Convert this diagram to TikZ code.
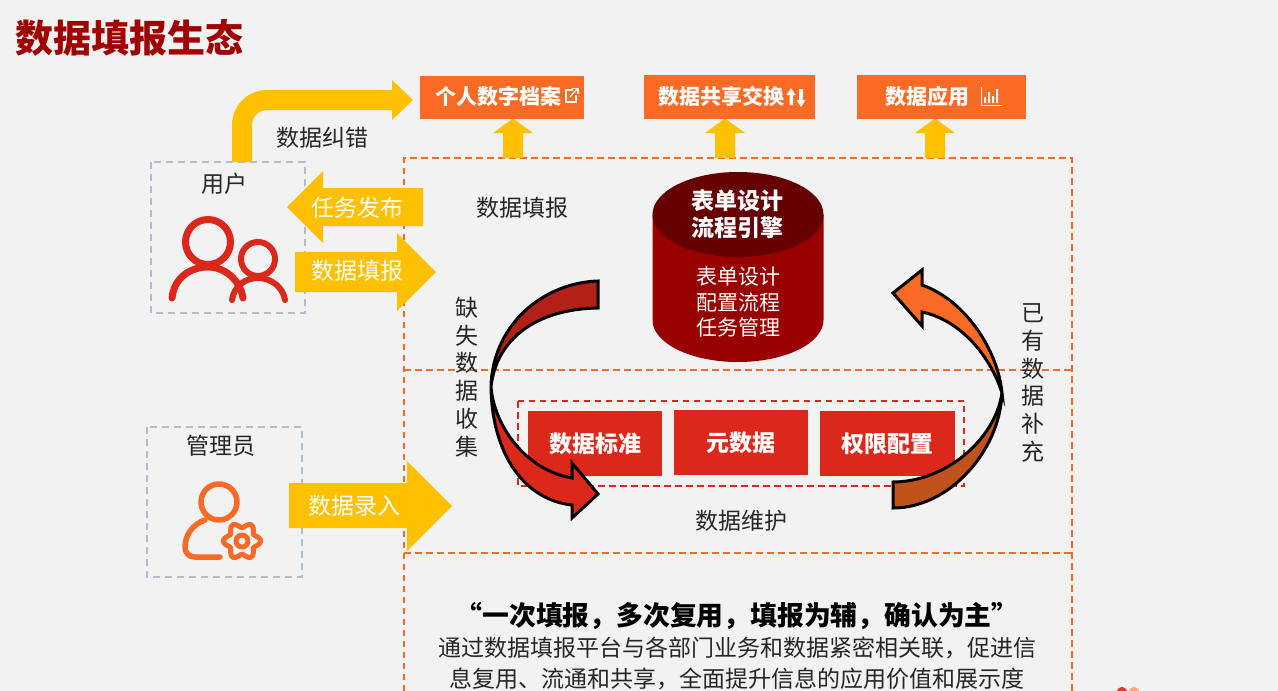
\documentclass[tikz,border=0pt]{standalone}
\usepackage{fontspec}
\setmainfont{Noto Sans CJK SC}
\usetikzlibrary{calc}
\definecolor{pagebg}{HTML}{F2F2F2}
\definecolor{amber}{HTML}{FFC000}
\definecolor{tangerine}{HTML}{F96A25}
\definecolor{signalred}{HTML}{DC281A}
\definecolor{deepred}{HTML}{990000}
\definecolor{darkcap}{HTML}{660000}
\definecolor{titlered}{HTML}{A00000}
\definecolor{slatedash}{HTML}{B0BCCC}
\definecolor{inktext}{HTML}{262626}
\definecolor{wineribbon}{HTML}{B22017}
\definecolor{rustribbon}{HTML}{C0531C}
\tikzset{
  txt/.style={inner sep=0pt,text=inktext,font=\fontsize{23}{28}\selectfont,align=center},
  whitetxt/.style={txt,text=white},
  boldwhite/.style={whitetxt,font=\fontsize{23}{28}\selectfont\bfseries},
  topbox/.style={fill=tangerine,draw=none,inner sep=0pt,text=white,font=\fontsize{21}{26}\selectfont\bfseries},
  redbox/.style={fill=signalred,draw=none,inner sep=0pt,minimum width=134.5pt,minimum height=65pt,text=white,font=\fontsize{23}{26}\selectfont\bfseries},
  zone/.style={draw=tangerine,line width=2pt,dash pattern=on 6.5pt off 4.5pt},
  redzone/.style={draw=signalred,line width=2pt,dash pattern=on 6.5pt off 4.5pt},
  actor/.style={draw=slatedash,line width=2pt,dash pattern=on 7pt off 5pt},
  blockarrow/.style={fill=amber,draw=none},
  ribbon/.style={draw=black,line width=3pt,line join=miter},
  icon/.style={line width=#1,line cap=round,line join=round,fill=none},
}
\begin{document}
\begin{tikzpicture}[x=1pt,y=-1pt]
\useasboundingbox (0,0) rectangle (1278,691);
\clip (0,0) rectangle (1278,691);
\fill[pagebg] (0,0) rectangle (1278,691);

% heading
\node[anchor=west,inner sep=0pt,text=titlered,font=\fontsize{38}{44}\selectfont\bfseries] (heading) at (15,38) {数据填报生态};

% dashed zones of the platform
\draw[zone] (404,691) -- (404,158) -- (1072,158) -- (1072,691);
\draw[zone] (404,370) -- (1072,370);
\draw[zone] (404,553) -- (1072,553);
\draw[redzone] (518,401) rectangle (964,486);

% actor frames
\draw[actor] (151,162) rectangle (305,313);
\draw[actor] (147,427) rectangle (302,577);

% output boxes
\node[topbox,minimum width=164pt,minimum height=43pt] (archive) at (502,97.5) {};
\node[topbox,minimum width=171pt,minimum height=44pt] (exchange) at (729.5,96.7) {};
\node[topbox,minimum width=169pt,minimum height=44pt] (application) at (941.5,96.7) {};
\node[topbox] (archivetxt) at (498,96) {个人数字档案};
\node[topbox] (exchangetxt) at (721,96) {数据共享交换};
\node[topbox] (applicationtxt) at (927,96) {数据应用};

% small glyphs inside the output boxes
\draw[white,line width=1.1pt] (573,90) -- (566,90) -- (566,102) -- (576,102) -- (576,95);
\draw[white,line width=1.2pt] (570,97) -- (577,89);
\draw[white,line width=1.2pt] (572,88.5) -- (578,88.5) -- (578,94);
\fill[white] (791,88) -- (795.5,95) -- (793,95) -- (793,105) -- (789.5,105) -- (789.5,95) -- (786.5,95) -- cycle;
\fill[white] (801,107) -- (805.5,100) -- (803,100) -- (803,89) -- (799,89) -- (799,100) -- (796.5,100) -- cycle;
\draw[white,line width=1pt] (981,87) -- (981,105) -- (1001.5,105);
\fill[white] (984,97) rectangle (986,103) (988,92) rectangle (990,103) (992,96) rectangle (994,103) (996,89) rectangle (998,103);

% amber arrows into the output boxes
\foreach \cx in {513,725,935}{
  \fill[blockarrow] (\cx-10,158) -- (\cx-10,133) -- (\cx-20,133) -- (\cx,118.5) -- (\cx+20,133) -- (\cx+10,133) -- (\cx+10,158) -- cycle;
}

% correction arrow from the user frame to the archive box
\fill[blockarrow] (232,162) -- (232,125) arc[start angle=180,end angle=270,radius=35] -- (392,90) -- (392,80) -- (413,100) -- (392,120) -- (392,110) -- (267,110) arc[start angle=270,end angle=180,radius=15] -- (252,162) -- cycle;

% arrows between the actors and the platform
\fill[blockarrow] (287,207) -- (323,171) -- (323,188) -- (423,188) -- (423,226) -- (323,226) -- (323,243) -- cycle;
\fill[blockarrow] (295,252) -- (397,252) -- (397,233) -- (436,272) -- (397,311) -- (397,292) -- (295,292) -- cycle;
\fill[blockarrow] (289,483) -- (407,483) -- (407,461) -- (452,506) -- (407,551) -- (407,528) -- (289,528) -- cycle;

% user icon
\draw[signalred,icon=7pt] (208,242) circle[radius=22.5];
\draw[signalred,icon=7pt] (172,298) .. controls (174,278) and (190,267) .. (208,267) .. controls (225,267) and (240,280) .. (243,298);
\draw[signalred,icon=6pt] (258,259) circle[radius=17];
\draw[signalred,icon=6pt] (232,300) .. controls (234,286) and (245,278) .. (258,278) .. controls (271,278) and (283,287) .. (285,300);

% administrator icon
\draw[tangerine,icon=5.5pt] (219,502) circle[radius=18];
\draw[tangerine,icon=5.5pt] (205,520) .. controls (193,524) and (185,535) .. (185,547) .. controls (185,553) and (189,557) .. (195,557) -- (220,557);
\draw[tangerine,icon=5pt,smooth,domain=0:360,samples=72] plot ({242+(16+2.6*cos(6*\x))*cos(\x)},{541+(16+2.6*cos(6*\x))*sin(\x)}) -- cycle;
\draw[tangerine,icon=5pt] (242,541) circle[radius=6];

% database cylinder
\fill[deepred] (652.5,214.5) -- (652.5,320) arc[start angle=180,end angle=0,x radius=85.5,y radius=42] -- (823.5,214.5) -- cycle;
\fill[darkcap] (738,214.5) ellipse[x radius=85.5,y radius=42.5];
\node[boldwhite] (enginea) at (737,201) {表单设计};
\node[boldwhite] (engineb) at (737,228) {流程引擎};
\node[whitetxt,font=\fontsize{21}{25.5}\selectfont] (enginelist) at (738,302.5) {表单设计\\配置流程\\任务管理};

% maintenance boxes
\node[redbox] (standard) at (595,443.5) {数据标准};
\node[redbox] (metadata) at (741,442.5) {元数据};
\node[redbox] (rights) at (887.5,443.5) {权限配置};

% left ribbon arrow: twisted tail, then head
\filldraw[ribbon,fill=wineribbon] (598,281) .. controls (540,283) and (492,328) .. (491,387) .. controls (496,340) and (535,309) .. (598,308) -- cycle;
\filldraw[ribbon,fill=signalred] (491,387) .. controls (494,425) and (525,470) .. (572,478) -- (572,463) -- (598,494) -- (572,518) -- (572,505) .. controls (525,500) and (492,455) .. (491,387) -- cycle;

% right ribbon arrow
\filldraw[ribbon,fill=rustribbon] (1002,393) .. controls (1000,450) and (950,508) .. (893,508) -- (893,482) .. controls (945,482) and (995,440) .. (1002,393) -- cycle;
\filldraw[ribbon,fill=tangerine] (1002,393) .. controls (998,350) and (965,300) .. (922,285) -- (922,270) -- (893,293) -- (922,326) -- (922,312) .. controls (960,320) and (990,355) .. (1002,393) -- cycle;

% plain labels
\node[txt] (fixlabel) at (322,138) {数据纠错};
\node[txt] (userlabel) at (224,184) {用户};
\node[txt] (adminlabel) at (221,446) {管理员};
\node[txt] (fillzone) at (522,208) {数据填报};
\node[txt] (maintzone) at (741,521) {数据维护};
\node[txt,font=\fontsize{23}{27.8}\selectfont] (missing) at (467,377) {缺\\失\\数\\据\\收\\集};
\node[txt,font=\fontsize{23}{27.8}\selectfont] (existing) at (1033,383) {已\\有\\数\\据\\补\\充};
\node[whitetxt] (publish) at (357,208) {任务发布};
\node[whitetxt] (filling) at (357,271) {数据填报};
\node[whitetxt] (entry) at (354,506) {数据录入};

% closing statement
\node[txt,text=black,font=\fontsize{26.8}{30}\selectfont\bfseries] (motto) at (737,616) {“一次填报，多次复用，填报为辅，确认为主”};
\node[txt] (lineone) at (737,648) {通过数据填报平台与各部门业务和数据紧密相关联，促进信};
\node[txt] (linetwo) at (737,679) {息复用、流通和共享，全面提升信息的应用价值和展示度};

% corner of a logo at the lower edge
\fill[signalred!90!white] (1122,695) ellipse[x radius=6,y radius=8];
\fill[tangerine!60!white] (1134,695) ellipse[x radius=6,y radius=8];
\end{tikzpicture}
\end{document}
